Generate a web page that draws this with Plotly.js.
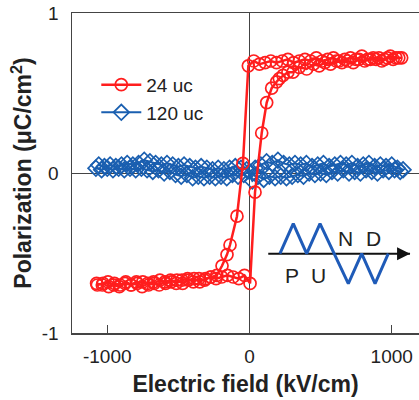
<!DOCTYPE html>
<html>
<head>
<meta charset="utf-8">
<script src="https://cdn.plot.ly/plotly-3.0.1.min.js"></script>
<style>html,body{margin:0;padding:0;background:#fff;}#chart{width:419px;height:400px;}</style>
</head>
<body>
<div id="chart"></div>
<script>
// ---- 24 uc (red) hysteresis loop: ascending then descending sweep ----
const red24_x = [-1070,-1030,-990,-950,-910,-870,-830,-790,-750,-710,-670,-630,-590,-550,-510,-470,-430,-390,-350,-310,-270,-230,-193,-158,-137,-88,-46,-8,30,70,110,150,190,230,270,310,350,390,430,470,510,550,590,630,670,710,750,790,830,870,910,950,990,1030,1070,
  1050,1010,970,930,890,850,810,770,730,690,650,610,570,530,490,450,402,350,306,270,236,210,191,156,121,86,39,4,-35,-75,-115,-155,-195,-235,-275,-315,-355,-395,-435,-475,-515,-555,-595,-635,-675,-715,-755,-795,-835,-875,-915,-955,-995,-1035,-1075];
const red24_y = [-0.70,-0.69,-0.71,-0.69,-0.70,-0.68,-0.70,-0.69,-0.68,-0.70,-0.69,-0.67,-0.69,-0.68,-0.67,-0.69,-0.67,-0.66,-0.68,-0.66,-0.65,-0.64,-0.58,-0.51,-0.45,-0.27,0.06,0.67,0.70,0.68,0.69,0.70,0.69,0.70,0.71,0.69,0.70,0.71,0.70,0.72,0.70,0.71,0.72,0.70,0.71,0.72,0.71,0.73,0.71,0.72,0.72,0.71,0.73,0.72,0.72,
  0.72,0.71,0.72,0.70,0.71,0.71,0.70,0.71,0.69,0.70,0.69,0.70,0.68,0.69,0.67,0.68,0.65,0.66,0.63,0.63,0.61,0.59,0.57,0.53,0.44,0.25,-0.12,-0.69,-0.64,-0.66,-0.65,-0.64,-0.65,-0.66,-0.65,-0.67,-0.66,-0.68,-0.66,-0.67,-0.69,-0.67,-0.68,-0.70,-0.68,-0.69,-0.71,-0.68,-0.70,-0.69,-0.71,-0.70,-0.68,-0.70,-0.69];

// ---- 120 uc (blue) loop ----
const blue120_x = [-1080,-1040,-1000,-960,-920,-880,-840,-800,-760,-720,-680,-640,-600,-560,-520,-480,-440,-400,-360,-320,-280,-240,-200,-160,-120,-80,-40,0,40,80,120,160,200,240,280,320,360,400,440,480,520,560,600,640,680,720,760,800,840,880,920,960,1000,1040,1080,
  1060,1020,980,940,900,860,820,780,740,700,660,620,580,540,500,460,420,380,340,300,260,220,180,140,100,60,20,-20,-60,-100,-140,-180,-220,-260,-300,-340,-380,-420,-460,-500,-540,-580,-620,-660,-700,-740,-780,-820,-860,-900,-940,-980,-1020,-1060];
const blue120_y = [0.03,0.02,0.03,0.02,0.03,0.02,0.03,0.02,0.03,0.02,0.01,0.02,0.00,0.01,-0.01,-0.02,-0.01,-0.03,-0.02,-0.03,-0.02,-0.03,-0.02,-0.03,-0.01,-0.02,-0.01,0.01,0.03,0.05,0.07,0.06,0.08,0.06,0.05,0.06,0.05,0.06,0.04,0.05,0.06,0.04,0.05,0.06,0.05,0.06,0.04,0.05,0.06,0.04,0.05,0.04,0.05,0.03,0.02,
  0.01,0.02,0.01,0.02,0.00,0.01,0.02,0.00,0.01,0.00,0.02,0.00,0.01,-0.01,0.00,-0.01,0.00,-0.02,-0.01,-0.02,-0.03,-0.02,-0.03,-0.02,-0.04,-0.02,-0.05,0.02,0.03,0.04,0.03,0.02,0.03,0.02,0.03,0.04,0.03,0.04,0.05,0.04,0.05,0.06,0.05,0.06,0.07,0.08,0.06,0.05,0.06,0.05,0.04,0.05,0.04,0.05];

// ---- PUND waveform inset (drawn in data units) ----
const pund_x = [214,308,402,496,695,789,883,976];
const pund_y = [-0.504,-0.316,-0.504,-0.316,-0.691,-0.504,-0.691,-0.504];
const pund_arrow_x = [132,1129];
const pund_arrow_y = [-0.504,-0.504];
const pund_labels = ["P","U","N","D"];
const pund_label_x = [297,484,672,871];
const pund_label_y = [-0.64,-0.64,-0.41,-0.41];

// ---- axis ticks ----
const xTickVals = [-1000,0,1000];
const xTickText = ["-1000","0","1000"];
const yTickVals = [-1,0,1];
const yTickText = ["-1","0","1"];

const RED = "#ff1e1e";
const BLUE = "#1a5fb0";
const FONT = "Liberation Sans, Arial, Helvetica, sans-serif";

const traces = [
  {x: blue120_x, y: blue120_y, name: "120 uc", mode: "lines+markers", legendrank: 2,
   line: {color: BLUE, width: 2}, marker: {symbol: "diamond-open", size: 12, color: BLUE, line: {width: 1.7, color: BLUE}}},
  {x: red24_x, y: red24_y, name: "24 uc", mode: "lines+markers", legendrank: 1,
   line: {color: RED, width: 2.5}, marker: {symbol: "circle-open", size: 12, color: RED, line: {width: 1.7, color: RED}}},
  {x: pund_arrow_x, y: pund_arrow_y, mode: "lines", showlegend: false, hoverinfo: "skip",
   line: {color: "#111", width: 2}},
  {x: pund_x, y: pund_y, mode: "lines", showlegend: false, hoverinfo: "skip",
   line: {color: "#1f5bb8", width: 3}}
];

const annotations = pund_labels.map((t, i) => ({
  x: pund_label_x[i], y: pund_label_y[i], xref: "x", yref: "y", text: t, showarrow: false,
  font: {family: FONT, size: 21, color: "#222"}
}));
annotations.push({
  x: pund_arrow_x[1], y: pund_arrow_y[1], ax: pund_arrow_x[1] - 60, ay: pund_arrow_y[1],
  xref: "x", yref: "y", axref: "x", ayref: "y", text: " ", showarrow: true,
  arrowhead: 2, arrowsize: 1.3, arrowwidth: 2, arrowcolor: "#111", standoff: 0
});

const layout = {
  width: 419, height: 400,
  margin: {l: 72, r: 0, t: 13, b: 67},
  paper_bgcolor: "#fff", plot_bgcolor: "#fff",
  font: {family: FONT, size: 19, color: "#222"},
  showlegend: true,
  legend: {x: 0.07, y: 0.835, xanchor: "left", yanchor: "top", bgcolor: "rgba(255,255,255,0)",
           font: {family: FONT, size: 19, color: "#222"}, itemwidth: 40, tracegroupgap: 0},
  xaxis: {
    range: [-1248, 1192], tickmode: "array", tickvals: xTickVals, ticktext: xTickText,
    ticks: "inside", ticklen: 8, tickcolor: "#444", tickwidth: 1,
    showline: true, linecolor: "#444", linewidth: 1.5, mirror: true,
    zeroline: true, zerolinecolor: "#444", zerolinewidth: 1,
    showgrid: false, ticklabelstandoff: 6,
    tickfont: {family: FONT, size: 19, color: "#222"},
    title: {text: "Electric field (kV/cm)", font: {family: FONT, size: 23, color: "#222", weight: "bold"}, standoff: 9}
  },
  yaxis: {
    range: [-1, 1], tickmode: "array", tickvals: yTickVals, ticktext: yTickText,
    ticks: "", showline: true, linecolor: "#444", linewidth: 1.5, mirror: false,
    zeroline: true, zerolinecolor: "#444", zerolinewidth: 1,
    showgrid: false, ticklabelstandoff: 8,
    tickfont: {family: FONT, size: 19, color: "#222"},
    title: {text: "Polarization (μC/cm<sup>2</sup>)", font: {family: FONT, size: 23, color: "#222", weight: "bold"}, standoff: 3}
  },
  annotations: annotations
};

Plotly.newPlot("chart", traces, layout, {displayModeBar: false, staticPlot: true});
</script>
</body>
</html>
